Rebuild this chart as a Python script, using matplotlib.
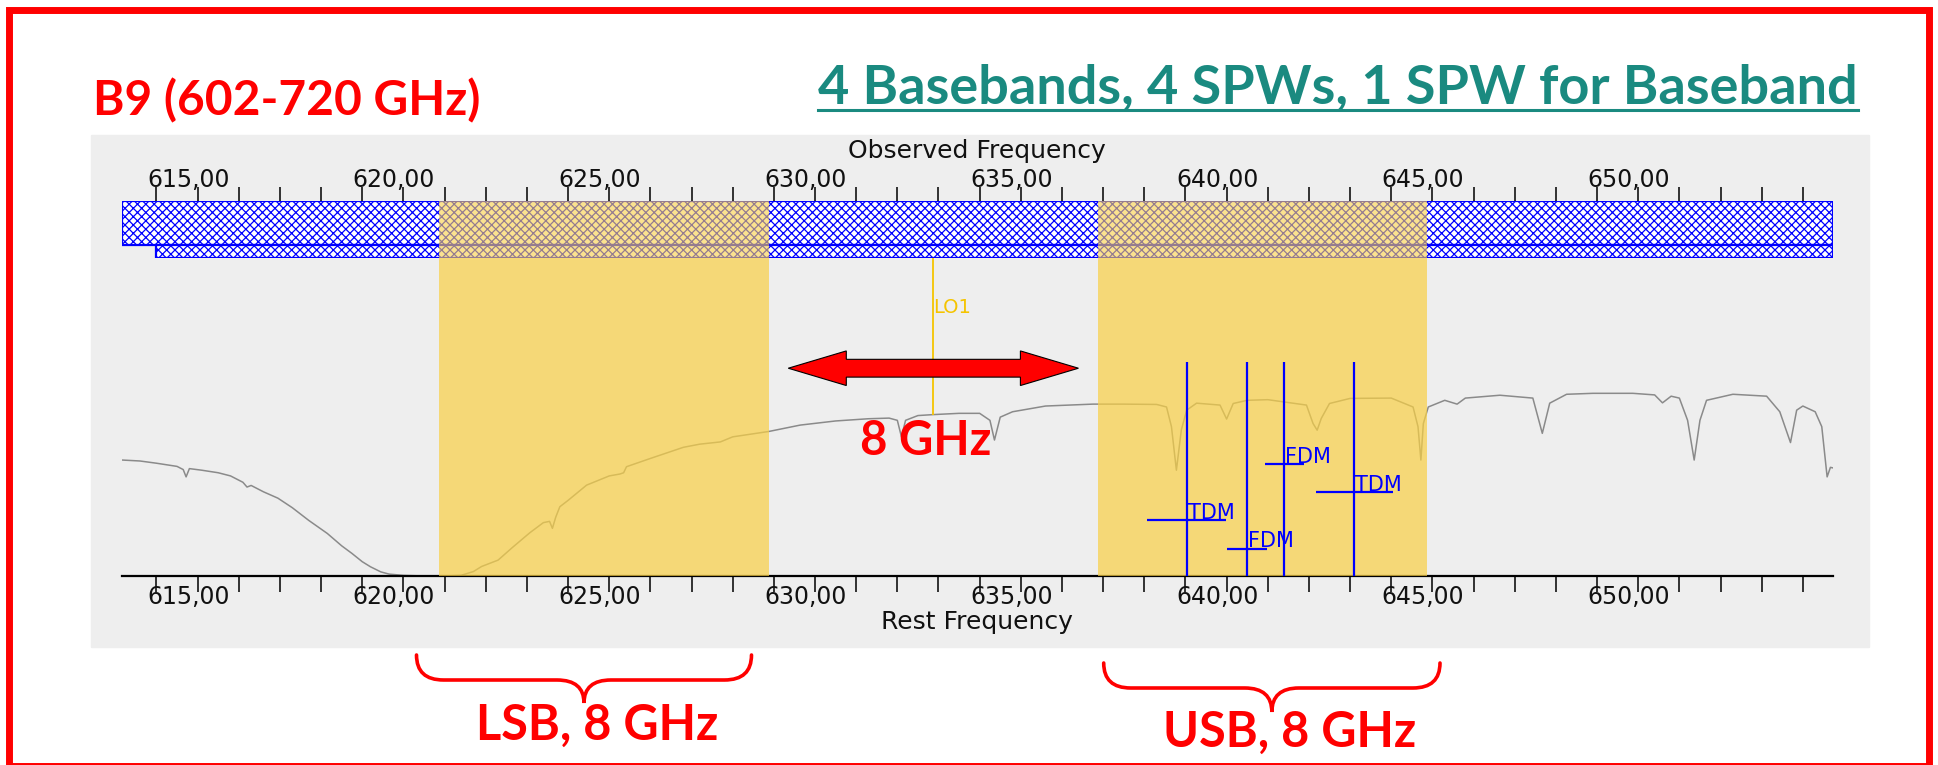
import numpy as np
import matplotlib
matplotlib.use('Agg')
import matplotlib.pyplot as plt
from matplotlib.patches import Rectangle, Polygon, PathPatch
from matplotlib.path import Path
from matplotlib.lines import Line2D
from matplotlib import transforms

# ---- data (GHz) ----
cover_lo = [613.17, 614.0]          # receiver coverage, upper / lower strip
cover_hi = [654.74, 654.74]
sideband_names = ['LSB', 'USB']
sideband_lo = [620.87, 636.87]
sideband_hi = [628.87, 644.87]
lo1_freq = 632.87
spw_center = [639.03, 640.49, 641.40, 643.10]
spw_mode = ['TDM', 'FDM', 'FDM', 'TDM']
spw_width = [1.93, 0.96, 0.95, 1.88]
tick_major = [615, 620, 625, 630, 635, 640, 645, 650]
tick_minor = list(range(614, 655))

# atmospheric transmission
freq = [613.17, 613.6, 614.0, 614.5, 614.65, 614.72, 614.8, 615.1, 615.5, 615.8,
        616.1, 616.2, 616.3, 616.6, 616.95, 617.3, 617.7, 618.15, 618.5, 618.75,
        619.0, 619.2, 619.45, 619.65, 620.0, 620.5, 621.0, 621.4, 621.7, 621.9,
        622.3, 622.65, 623.07, 623.4, 623.55, 623.62, 623.7, 623.8, 624.0, 624.45,
        625.0, 625.26, 625.35, 625.42, 626.0, 626.8, 627.2, 627.7, 628.0, 628.88,
        629.64, 630.5, 631.3, 631.8, 632.0, 632.1, 632.2, 632.5, 632.87, 633.5,
        634.0, 634.25, 634.36, 634.5, 634.8, 635.6, 636.75, 637.5, 638.3, 638.54,
        638.66, 638.78, 638.9, 639.03, 639.27, 639.84, 640.0, 640.16, 640.5, 641.0,
        641.94, 642.1, 642.2, 642.3, 642.5, 643.0, 644.0, 644.53, 644.65, 644.72,
        644.78, 644.9, 645.3, 645.6, 645.8, 646.64, 647.44, 647.67, 647.85, 648.26,
        648.9, 649.87, 650.4, 650.59, 650.8, 651.0, 651.2, 651.36, 651.5, 651.66,
        652.3, 653.12, 653.44, 653.7, 653.85, 654.0, 654.3, 654.46, 654.59, 654.67,
        654.74]
trans = [0.365, 0.362, 0.355, 0.345, 0.335, 0.312, 0.338, 0.333, 0.325, 0.315,
         0.295, 0.280, 0.285, 0.265, 0.245, 0.215, 0.175, 0.134, 0.095, 0.071,
         0.045, 0.029, 0.013, 0.006, 0.002, 0.0, 0.0, 0.002, 0.014, 0.030,
         0.050, 0.090, 0.136, 0.168, 0.172, 0.150, 0.185, 0.218, 0.238, 0.286,
         0.315, 0.321, 0.325, 0.344, 0.370, 0.405, 0.415, 0.422, 0.438, 0.455,
         0.475, 0.488, 0.495, 0.497, 0.490, 0.438, 0.490, 0.505, 0.508, 0.512,
         0.512, 0.490, 0.428, 0.500, 0.517, 0.535, 0.541, 0.541, 0.540, 0.532,
         0.470, 0.333, 0.460, 0.522, 0.544, 0.538, 0.494, 0.543, 0.553, 0.555,
         0.538, 0.480, 0.459, 0.496, 0.543, 0.559, 0.560, 0.532, 0.470, 0.365,
         0.480, 0.532, 0.553, 0.541, 0.560, 0.569, 0.560, 0.449, 0.544, 0.572,
         0.575, 0.575, 0.570, 0.545, 0.566, 0.560, 0.490, 0.365, 0.490, 0.553,
         0.572, 0.566, 0.517, 0.420, 0.522, 0.535, 0.517, 0.470, 0.312, 0.342,
         0.340]

# ---- style ----
W, H = 1938, 765
RED = '#ff0000'
TEAL = '#1a8a80'
YELLOW = '#f9d045'
BLUE = '#0000ff'
LOCOL = '#f5c400'
title_font = ['Lato', 'DejaVu Sans']
spw_label_y = [0.175, 0.086, 0.352, 0.263]


def fx(x):
    return x / W


def fy(y):
    return 1 - y / H


plt.rcParams['hatch.linewidth'] = 0.9
fig = plt.figure(figsize=(W / 100, H / 100), dpi=100)
fig.patch.set_facecolor('white')

# grey panel of the spectral view
fig.add_artist(Rectangle((fx(91), fy(647)), fx(1869 - 91), (647 - 135) / H,
                         transform=fig.transFigure, color='#eeeeee', zorder=-5))

x_left, x_right = 122.3, 1833.3
ax_bar = fig.add_axes([fx(x_left), fy(258.3), fx(x_right - x_left), (258.3 - 201) / H])
ax = fig.add_axes([fx(x_left), fy(576), fx(x_right - x_left), (576 - 258.3) / H])
for a in (ax_bar, ax):
    a.set_xlim(cover_lo[0], cover_hi[0])
    a.set_facecolor('none')
    a.set_yticks([])
    a.set_xticks(tick_minor)
    a.set_xticklabels([])
    for s in a.spines.values():
        s.set_visible(False)

# observed frequency coverage strips
ax_bar.set_ylim(0, 1)
ax_bar.barh([0.616, 0.116], np.array(cover_hi) - np.array(cover_lo), left=cover_lo,
            height=[0.768, 0.232], color='white', edgecolor=BLUE, hatch='xxxx', lw=1.6, zorder=1)
ax_bar.xaxis.set_ticks_position('top')
ax_bar.tick_params(axis='x', direction='out', length=10, width=1.2, color='#111111')

# rest frequency spectrum
ax.set_ylim(0, 1)
ax.spines['bottom'].set_visible(True)
ax.spines['bottom'].set_linewidth(1.6)
ax.tick_params(axis='x', direction='out', length=11.3, width=1.2, color='#111111')
ax.plot(freq, trans, color='#8a8a8a', lw=1.1, zorder=2)

for lo, hi in zip(sideband_lo, sideband_hi):
    ax.axvspan(lo, hi, color=YELLOW, alpha=0.7, lw=0, zorder=3)
    ax_bar.axvspan(lo, hi, color=YELLOW, alpha=0.6, lw=0, zorder=3)

# LO1 marker
lo_t = np.interp(lo1_freq, freq, trans)
ax.vlines(lo1_freq, lo_t, 1, color=LOCOL, lw=1.3, zorder=4)
ax.text(lo1_freq, 0.827, 'LO1', color=LOCOL, fontsize=14, ha='left', va='baseline', zorder=4)

# spectral windows
for c, m, w, yl in zip(spw_center, spw_mode, spw_width, spw_label_y):
    ax.vlines(c, 0, 0.674, color=BLUE, lw=1.6, zorder=5)
    ax.hlines(yl, c - w / 2, c + w / 2, color=BLUE, lw=1.6, zorder=5)
    ax.text(c + 0.03, yl + 0.004, m, color=BLUE, fontsize=15, ha='left', va='baseline', zorder=5)

# tick labels (comma decimals, shifted like the original widget)
shift = transforms.ScaledTranslation(-9.4 / 100, 0, fig.dpi_scale_trans)
for a, ybase in ((ax_bar, 187), (ax, 604)):
    tr = transforms.blended_transform_factory(a.transData, fig.transFigure) + shift
    for v in tick_major:
        a.text(v, fy(ybase), f'{v:.2f}'.replace('.', ','), transform=tr,
               ha='center', va='baseline', fontsize=17, color='#111111')

fig.text(fx(977), fy(158), 'Observed Frequency', ha='center', va='baseline',
         fontsize=18, color='#111111')
fig.text(fx(977), fy(629), 'Rest Frequency', ha='center', va='baseline',
         fontsize=18, color='#111111')

# red double arrow between the sidebands
arrow_span = [629.35, 636.4]
x0, x1 = arrow_span
hl, yc, hw, sw = 1.41, 0.654, 0.0545, 0.028
pts = [(x0, yc), (x0 + hl, yc + hw), (x0 + hl, yc + sw), (x1 - hl, yc + sw),
       (x1 - hl, yc + hw), (x1, yc), (x1 - hl, yc - hw), (x1 - hl, yc - sw),
       (x0 + hl, yc - sw), (x0 + hl, yc - hw)]
ax.add_patch(Polygon(pts, closed=True, facecolor=RED, edgecolor='black', lw=0.8,
                     zorder=6, clip_on=False))
ax.text(632.69, 0.38, '8 GHz', color=RED, fontsize=34, fontweight='bold',
        family=title_font, ha='center', va='baseline', zorder=6)

# slide annotations
fig.text(fx(93), fy(115), 'B9 (602-720 GHz)', color=RED, fontsize=34.5,
         fontweight='bold', family=title_font, ha='left', va='baseline')
t_title = fig.text(fx(1338), fy(103), '4 Basebands, 4 SPWs, 1 SPW for Baseband',
                   color=TEAL, fontsize=39, fontweight='bold', family=title_font,
                   ha='center', va='baseline')
fig.text(fx(597), fy(740), 'LSB, 8 GHz', color=RED, fontsize=35, fontweight='bold',
         family=title_font, ha='center', va='baseline')
fig.text(fx(1290), fy(747), 'USB, 8 GHz', color=RED, fontsize=35, fontweight='bold',
         family=title_font, ha='center', va='baseline')


def brace(xa, xb, top, line, tip, r=27):
    xm = (xa + xb) / 2
    verts = [(xa, top), (xa, line), (xa + r, line), (xm - r, line), (xm, line), (xm, tip),
             (xm, line), (xm + r, line), (xb - r, line), (xb, line), (xb, top)]
    codes = [Path.MOVETO, Path.CURVE3, Path.CURVE3, Path.LINETO, Path.CURVE3, Path.CURVE3,
             Path.CURVE3, Path.CURVE3, Path.LINETO, Path.CURVE3, Path.CURVE3]
    verts = [(fx(x), fy(y)) for x, y in verts]
    fig.add_artist(PathPatch(Path(verts, codes), transform=fig.transFigure,
                             fill=False, edgecolor=RED, lw=2.6, capstyle='round'))


brace(416.5, 751.5, 655, 680, 703)
brace(1103.7, 1440, 663, 688, 712)

# underline for the teal heading
fig.canvas.draw()
bb = t_title.get_window_extent()
fig.add_artist(Line2D([bb.x0 / W, bb.x1 / W], [fy(110)] * 2, transform=fig.transFigure,
                      color=TEAL, lw=2.2))

# red slide frame
fig.add_artist(Rectangle((fx(9), fy(766)), fx(1929 - 9), (766 - 10) / H, transform=fig.transFigure,
                         fill=False, edgecolor=RED, lw=5, zorder=10))

fig.savefig('out.png', dpi=100)
